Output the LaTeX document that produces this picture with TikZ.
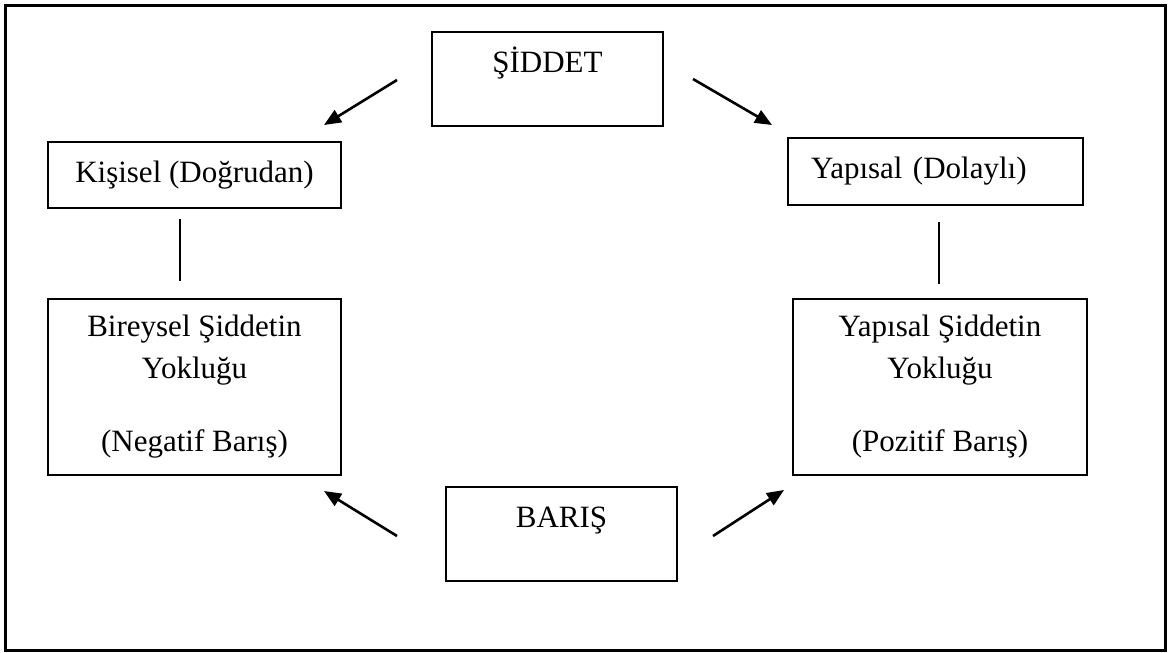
\documentclass[tikz,border=0pt]{standalone}
\usepackage{fontspec}
\setmainfont{Liberation Serif}
\usetikzlibrary{arrows.meta, positioning}

\begin{document}
\begin{tikzpicture}[x=1pt, y=-1pt,
  kutu/.style={rectangle, draw, line width=2pt, minimum width=293pt, minimum height=66pt, inner sep=0pt, align=center, font=\fontsize{31pt}{42pt}\selectfont},
  baslik/.style={kutu, minimum width=231pt, minimum height=94pt, text height=22pt, text depth=35pt},
  ok/.style={-{Triangle[length=17pt, width=14pt]}, line width=2.6pt},
  cizgi/.style={line width=2pt}
]
  \useasboundingbox (0,0) rectangle (1171,653);
  \draw[line width=3pt] (5,5) rectangle (1165,650);

  \node[baslik] (siddet) at (547.5,79) {ŞİDDET};
  \node[baslik] (baris) at (561.5,534) {BARIŞ};
  \node[kutu] (kisisel) at (194.5,175) {Kişisel (Doğrudan)};
  \node[kutu, minimum width=295pt, minimum height=67pt, text width=249pt, inner xsep=23pt, align=left] (yapisal) at (935.5,171.5) {Yapısal (Dolaylı)};
  \node[kutu, minimum height=176pt, below=89pt of kisisel] (bireysel) {Bireysel Şiddetin\\Yokluğu\\[31pt](Negatif Barış)};
  \node[kutu, minimum width=294pt, minimum height=176pt, below=92pt of yapisal, xshift=4.5pt] (yapisalyok) {Yapısal Şiddetin\\Yokluğu\\[31pt](Pozitif Barış)};

  \draw[cizgi] ([xshift=-14.5pt,yshift=-10pt]kisisel.south) -- ([xshift=-14.5pt,yshift=17pt]bireysel.north);
  \draw[cizgi] ([xshift=3.5pt,yshift=-16pt]yapisal.south) -- ([xshift=-1pt,yshift=14pt]yapisalyok.north);

  \draw[ok] ([shift={(-34pt,-1pt)}]siddet.west) -- ([shift={(-18pt,16pt)}]kisisel.north east);
  \draw[ok] ([xshift=29pt]siddet.east) -- ([shift={(-15pt,12pt)}]yapisal.north west);
  \draw[ok] ([shift={(-48pt,-2pt)}]baris.west) -- ([shift={(-18pt,-15pt)}]bireysel.south east);
  \draw[ok] ([shift={(35pt,-2pt)}]baris.east) -- ([shift={(-8pt,-14pt)}]yapisalyok.south west);
\end{tikzpicture}
\end{document}
